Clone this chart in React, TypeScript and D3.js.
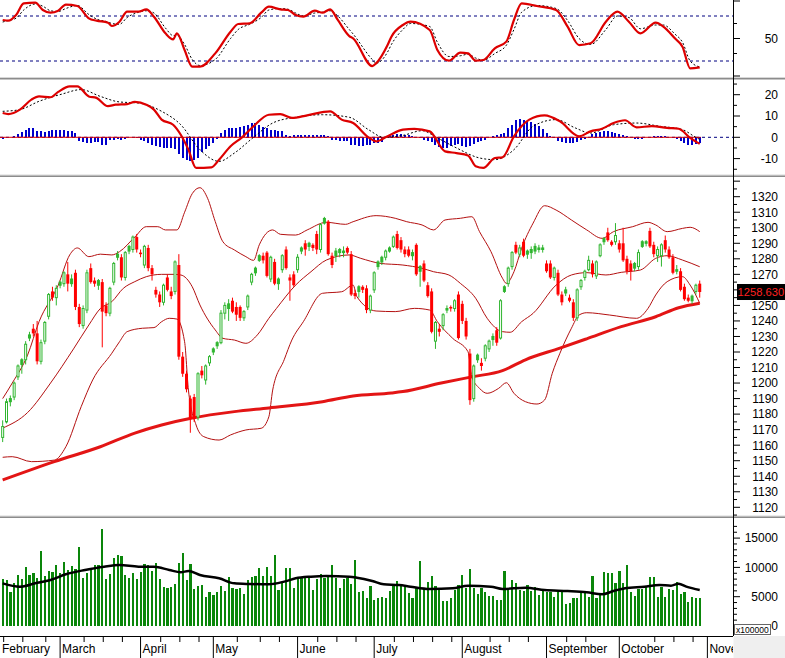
import React from 'react';
import * as d3 from 'd3';

const FONT = "Arial, 'Liberation Sans', Helvetica, sans-serif";

// ---------- categories ----------
const monthNames = ['February', 'March', 'April', 'May', 'June', 'July', 'August', 'September', 'October', 'November'];
const monthStartBar = [0, 15, 36, 55, 77, 97, 120, 142, 161, 184];
const weekTickBar = [0, 5, 11, 21, 26, 31, 41, 46, 51, 61, 67, 72, 82, 87, 92, 102, 107, 112, 117, 127, 132, 137, 147, 152, 170, 175, 180];

// ---------- price candles [open, high, low, close] ----------
const ohlc: [number, number, number, number][] = [
  [1165,1176,1162,1172],[1175,1190,1174,1188],[1188,1192,1185,1190],[1191,1201,1189,1200],[1204,1212,1202,1211],
  [1212,1216,1206,1215],[1215,1227,1212,1225],[1229,1233,1227,1231],[1235,1238,1230,1232],[1232,1240,1212,1214],
  [1214,1228,1212,1226],[1227,1240,1225,1239],[1243,1258,1241,1257],[1259,1262,1253,1255],[1255,1263,1250,1261],
  [1263,1266,1261,1265],[1264,1272,1262,1271],[1270,1278,1259,1264],[1264,1270,1262,1267],[1271,1273,1247,1249],
  [1249,1251,1236,1238],[1237,1250,1235,1248],[1247,1273,1245,1271],[1274,1277,1264,1265],[1266,1268,1262,1264],
  [1263,1267,1260,1266],[1265,1267,1223,1246],[1250,1252,1243,1245],[1245,1262,1243,1261],[1265,1278,1263,1277],
  [1281,1285,1279,1283],[1281,1283,1266,1268],[1268,1285,1266,1284],[1285,1289,1283,1288],[1286,1295,1284,1294],
  [1294,1296,1284,1286],[1284,1286,1281,1283],[1276,1289,1274,1288],[1287,1289,1272,1274],[1274,1276,1266,1270],
  [1260,1262,1255,1257],[1257,1259,1249,1252],[1252,1264,1250,1263],[1268,1270,1259,1260],[1259,1262,1254,1256],
  [1259,1279,1257,1278],[1276,1283,1215,1217],[1217,1220,1204,1206],[1206,1208,1194,1196],[1190,1192,1168,1177],
  [1191,1193,1175,1177],[1178,1207,1176,1206],[1208,1211,1203,1205],[1202,1212,1199,1211],[1213,1218,1211,1217],
  [1220,1223,1218,1222],[1224,1227,1222,1226],[1226,1247,1225,1245],[1245,1252,1241,1250],[1248,1254,1240,1251],
  [1253,1255,1245,1246],[1249,1252,1240,1244],[1249,1250,1240,1242],[1242,1247,1240,1246],[1249,1257,1247,1256],
  [1265,1271,1263,1270],[1271,1275,1269,1274],[1279,1283,1278,1282],[1282,1284,1277,1279],[1284,1285,1268,1269],
  [1267,1282,1265,1281],[1278,1280,1263,1264],[1264,1268,1260,1267],[1273,1283,1271,1282],[1286,1288,1273,1274],
  [1268,1270,1253,1266],[1270,1272,1262,1263],[1273,1283,1271,1281],[1285,1288,1283,1287],[1290,1292,1282,1286],
  [1288,1291,1285,1290],[1289,1290,1285,1287],[1296,1298,1283,1286],[1286,1303,1284,1302],[1303,1307,1302,1306],
  [1304,1305,1282,1283],[1282,1284,1274,1276],[1282,1287,1278,1285],[1284,1287,1281,1286],[1284,1288,1281,1285],
  [1287,1288,1283,1284],[1283,1285,1256,1257],[1258,1260,1254,1256],[1259,1263,1255,1262],[1262,1263,1258,1260],
  [1261,1263,1245,1247],[1247,1257,1245,1256],[1260,1272,1258,1271],[1275,1279,1273,1278],[1278,1282,1276,1281],
  [1281,1286,1279,1285],[1285,1288,1284,1287],[1288,1295,1287,1294],[1296,1298,1286,1287],[1292,1294,1284,1286],
  [1286,1288,1281,1283],[1286,1288,1281,1282],[1282,1286,1279,1284],[1289,1290,1269,1270],[1272,1276,1262,1275],
  [1277,1279,1265,1266],[1263,1265,1255,1256],[1259,1261,1232,1233],[1227,1240,1222,1239],[1235,1238,1230,1233],
  [1237,1245,1234,1244],[1247,1250,1245,1248],[1249,1250,1246,1248],[1248,1254,1246,1253],[1257,1259,1228,1229],
  [1251,1253,1238,1240],[1240,1242,1228,1230],[1219,1222,1186,1189],[1190,1212,1188,1211],[1215,1219,1213,1218],
  [1213,1216,1208,1211],[1216,1225,1214,1224],[1222,1228,1220,1227],[1228,1232,1224,1230],[1234,1236,1224,1226],
  [1229,1254,1228,1253],[1259,1263,1258,1262],[1264,1275,1262,1274],[1275,1285,1273,1284],[1289,1291,1283,1284],
  [1283,1289,1281,1287],[1291,1293,1281,1282],[1283,1286,1280,1285],[1284,1288,1280,1286],[1285,1290,1283,1288],
  [1286,1289,1284,1287],[1286,1289,1284,1287],[1277,1279,1271,1272],[1277,1279,1267,1268],[1268,1275,1266,1274],
  [1271,1273,1256,1257],[1257,1259,1250,1252],[1258,1262,1256,1260],[1255,1257,1252,1253],[1252,1254,1240,1242],
  [1242,1261,1240,1260],[1262,1267,1260,1266],[1268,1273,1266,1272],[1273,1282,1272,1279],[1277,1279,1268,1270],
  [1269,1279,1267,1278],[1282,1290,1281,1289],[1291,1294,1289,1293],[1297,1300,1291,1292],[1291,1292,1288,1289],
  [1291,1303,1289,1295],[1290,1292,1284,1286],[1290,1300,1278,1279],[1280,1282,1270,1272],[1277,1279,1266,1272],
  [1274,1278,1272,1277],[1275,1286,1273,1284],[1288,1292,1287,1291],[1290,1292,1288,1291],[1298,1300,1287,1288],
  [1289,1291,1281,1283],[1282,1288,1278,1286],[1282,1290,1275,1289],[1292,1295,1284,1286],[1286,1288,1280,1281],
  [1281,1283,1270,1271],[1272,1276,1270,1273],[1272,1274,1259,1260],[1262,1264,1253,1254],[1255,1257,1252,1253],
  [1253,1257,1251,1256],[1259,1264,1257,1263],[1264,1266,1255,1258.63],
];

// ---------- volume (x100000) ----------
const volume = [
  8020,7850,5860,7280,8700,8020,10000,8700,9000,8250,
  12800,8530,9390,9270,10400,9000,11000,9560,10240,9730,
  13500,8250,9000,9840,10400,10400,16560,8020,8820,11550,
  12100,11950,8700,8250,9100,8020,9270,10530,10400,9390,
  10700,8020,6700,6540,6700,7110,10700,12400,7850,10530,
  6300,6880,7000,5000,5750,5290,5860,6880,5970,8420,
  6540,6300,6540,5520,7850,8420,8530,9960,8590,10070,
  8590,12120,6150,7570,9960,9960,6430,8140,8250,8250,
  8140,6150,8020,8820,8140,8700,10400,8140,6540,8020,
  8140,7110,11270,5750,5970,4840,6880,4440,4840,5000,
  4840,5970,7000,7680,
  6880,6700,5580,4840,6430,11100,6300,7570,8530,6880,
  6430,4270,4270,4840,6150,7000,8700,6540,9730,6430,
  5400,6540,5750,5180,5060,4440,4440,9390,6150,7850,
  7400,6150,5970,7000,5970,6700,5290,5970,5860,5750,
  5000,5750,5860,3700,3980,4720,4840,5970,5970,4950,
  8530,4720,5290,9160,8990,8990,7280,9390,7280,10400,
  5750,5180,6300,6300,6650,8360,8360,5000,6650,4950,
  6300,6200,7570,5400,5860,4040,5000,4840,4840,
];
const volumeMA: [number, number][] = [
  [0,7280],[4.5,6710],[8.5,7280],[12.5,7850],[16.5,8820],[21.5,9560],[26.5,10130],[30.5,10410],[35.5,10130],[39.5,10130],
  [43.5,9560],[46.5,9160],[48.5,9390],[51.5,8700],[56.5,8140],[60.5,7280],[64.5,7170],[69.5,7110],[73.5,7570],[76.5,8140],
  [80.5,8420],[84.5,8530],[90.5,8420],[92.5,8250],[96.5,7680],[99.5,7110],[103.5,7000],[106.5,6710],[111.5,6320],[117.5,6430],
  [121.5,6880],[127.5,6710],[130.5,6320],[136.5,6540],[141.5,6150],[147.5,5970],[152.5,5750],[156.5,5400],[159.5,5970],[162.5,6430],
  [167.5,6710],[171.5,7000],[174.5,6880],[176.5,7220],[178.5,6710],[182,6150],
];

// ---------- Bollinger bands & MA200 ----------
const bbUpper: [number, number][] = [
  [0,1190],[2.5,1200],[6.5,1218],[9.5,1239.5],[14.5,1263],[17.5,1282.5],[19.5,1287],[22.5,1281.4],[25.5,1283],[28.5,1282.5],
  [30.5,1284.6],[34.5,1294],[37.5,1300.7],[40.5,1300.7],[42.5,1298.6],[45.5,1298.6],[47.5,1310],[49.5,1322],[51.5,1325.8],[53.5,1319],
  [55.5,1304],[57.5,1291],[60.5,1285.7],[63.5,1281.4],[65.5,1279],[67,1289],[70.5,1298.6],[72.5,1295.8],[76.5,1295.3],[79.5,1298.6],
  [84.5,1303.5],[89.5,1302.2],[91.5,1303.9],[97.5,1307.8],[102.5,1306.1],[105.5,1303.9],[109.5,1301.8],[112.5,1298.6],[115.5,1305],[119.5,1306.1],
  [122.5,1307.1],[124.5,1297.5],[127.5,1284.6],[130.5,1267.5],[131.5,1264.2],[133.5,1271.7],[135.5,1286.8],[138.5,1303],[141.5,1314.2],[144.5,1311.4],
  [148.5,1305],[152.5,1298.6],[156.5,1293.2],[159.5,1297.5],[164.5,1300.7],[168.5,1303.5],[170.5,1301.8],[173.5,1297.5],[177.5,1299.6],[179.5,1300.3],[182,1297.5],
];
const bbMiddle: [number, number][] = [
  [0,1171],[6.5,1181],[12.5,1200],[18.5,1222],[22.5,1237.4],[25.5,1248],[28.5,1252.4],[31.5,1261],[34.5,1265.3],[37.5,1268.5],
  [41.5,1270],[44.5,1270],[46.5,1269.6],[49.5,1262],[51.5,1250.3],[55.5,1234.2],[57.5,1228.8],[60.5,1227.7],[63.5,1225.6],[66.5,1231],
  [69.5,1241.7],[71.5,1248.1],[76.5,1263.1],[80.5,1271.7],[84.5,1279.2],[90.5,1282.5],[93.5,1280.3],[98.5,1277.1],[104.5,1276],[109.5,1273.9],
  [112.5,1271.7],[116.5,1269.6],[119.5,1264.2],[123.5,1254.6],[126.5,1241.7],[130.5,1233.1],[132.5,1232.7],[135.5,1239.5],[138.5,1244.9],[144.5,1263.1],
  [148.5,1269.6],[152.5,1271.1],[157.5,1269.6],[161.5,1271.3],[166.5,1272.8],[170.5,1280.3],[173.5,1282],[177.5,1279.2],[182,1274.9],
];
const bbLower: [number, number][] = [
  [0,1152.2],[2.5,1152.6],[7.5,1149.4],[13.5,1150.4],[16.5,1159],[20.5,1184.8],[23.5,1202],[28.5,1219.2],[30.5,1226.6],[32.5,1233.1],
  [36.5,1235.3],[39.5,1235.7],[41.5,1239.5],[43.5,1241.7],[45.5,1241.2],[47.5,1226.6],[48.5,1195.5],[50.5,1173],[52.5,1165.5],[56.5,1163.3],
  [59.5,1166.6],[63.5,1169.8],[67.5,1170.9],[69.5,1178.3],[70.5,1195.5],[73.5,1215],[75.5,1227.7],[78.5,1239.5],[83.5,1257.8],[88.5,1258.8],
  [91.5,1263.1],[92.5,1255.6],[97.5,1246.4],[102.5,1246],[107.5,1248.1],[111.5,1247],[113.5,1239.5],[117.5,1228.8],[121.5,1220.2],[122.5,1204.1],
  [124.5,1196.6],[126.5,1193.4],[129.5,1196.6],[131.5,1200.2],[133.5,1193.4],[136.5,1188],[139.5,1186.5],[141.5,1189.1],[143.5,1206.3],[145.5,1219.2],
  [148.5,1235.3],[150.5,1243.8],[152.5,1245.3],[158.5,1243.8],[165.5,1241.7],[168.5,1248.1],[170.5,1256.7],[173.5,1265.3],[177.5,1268.5],[179.5,1263.1],[182,1251.4],
];
const ma200: [number, number][] = [
  [0,1137.6],[13.5,1149.4],[25.5,1159],[34.5,1167.8],[41.5,1173],[49.5,1177.5],[60.5,1181.6],[69.5,1184],[83.5,1188],[91.5,1191.7],
  [101.5,1193.6],[104.5,1194.5],[114.5,1200],[122.5,1204],[130.5,1208],[136.5,1215],[145.5,1222.5],[152.5,1228.5],[161.5,1236.3],[170.5,1242.7],
  [176.5,1248.5],[182,1251.4],
];

// ---------- Stochastic ----------
const stochK: [number, number][] = [
  [0,74.7],[1.5,73.8],[3.5,81.3],[5.5,96.9],[8.5,97.8],[10.5,88],[12.5,84.4],[14.5,87.1],[16.5,95.1],[19.5,93.3],
  [22.5,76.9],[24.5,73.8],[27.5,71.1],[28.5,66.7],[30.5,72.4],[32.5,85.8],[35.5,85.8],[37.5,88.9],[39.5,79.1],[42.5,56.9],
  [44.5,48.9],[45.5,56.9],[47.5,34.7],[49.5,12.4],[51.5,12.4],[55.5,30.2],[59.5,59.1],[61.5,69.3],[64.5,70.2],[67.5,84.4],
  [69.5,92.4],[72.5,88.9],[74.5,88],[76.5,81.3],[78.5,79.1],[81.5,87.1],[83.5,84.4],[85.5,88.9],[87.5,74.7],[90.5,53.3],
  [91.5,50.2],[96.5,13.3],[97.5,16.9],[100.5,41.3],[101.5,52.4],[104.5,68],[106.5,72.4],[111.5,61.3],[113.5,34.7],[116.5,20.4],
  [119.5,31.1],[121.5,30.2],[123.5,20.4],[125.5,21.3],[128.5,36.9],[131.5,45.8],[133.5,74.7],[135.5,96.9],[139.5,93.3],[144.5,88],
  [147.5,65.8],[150.5,41.3],[153.5,43.6],[157.5,72.4],[160.5,85.8],[163.5,72.4],[166.5,56.9],[170.5,71.1],[172.5,65.8],[175.5,50.2],
  [177.5,39.1],[179.5,10.2],[182,11.6],
];
const stochD: [number, number][] = [
  [0,72],[1.5,74],[3.5,77],[5.5,88],[8.5,96],[10.5,93],[12.5,87],[14.5,86],[16.5,90],[19.5,94],
  [22.5,82],[24.5,76],[27.5,72],[28.5,70],[30.5,69],[32.5,78],[35.5,85],[37.5,87],[39.5,84],[42.5,64],
  [44.5,54],[45.5,54],[47.5,42],[49.5,22],[51.5,14],[55.5,22],[59.5,50],[61.5,62],[64.5,69],[67.5,78],
  [69.5,88],[72.5,90],[74.5,89],[76.5,84],[78.5,80],[81.5,84],[83.5,85],[85.5,87],[87.5,80],[90.5,62],
  [91.5,56],[96.5,22],[97.5,17],[100.5,32],[101.5,42],[104.5,62],[106.5,70],[111.5,66],[113.5,45],[116.5,26],
  [119.5,27],[121.5,29],[123.5,24],[125.5,21],[128.5,30],[131.5,41],[133.5,62],[135.5,85],[139.5,94],[144.5,90],
  [147.5,74],[150.5,50],[153.5,42],[157.5,62],[160.5,80],[163.5,78],[166.5,63],[170.5,68],[172.5,68],[175.5,56],
  [177.5,45],[179.5,20],[182,12],
];

// ---------- MACD ----------
const macdLine: [number, number][] = [
  [0,11.4],[1.5,10.9],[4.5,13],[7.5,17.7],[9.5,19.2],[12.5,18.8],[14.5,21.3],[17.5,23.9],[19.5,23.9],[22.5,19.2],
  [24.5,18.5],[27.5,14.6],[29.5,15.3],[32.5,15.6],[34.5,16.6],[37.5,15.3],[39.5,13],[41.5,8.3],[44.5,5.9],[46.5,1.2],
  [48.5,-5.8],[50.5,-14.4],[54.5,-14.1],[56.5,-10.5],[59.5,-4.2],[62.5,0],[65.5,5.2],[69.5,10.6],[72.5,10.9],[75.5,9.1],
  [79.5,10.3],[85.5,12.2],[88.5,8.3],[91.5,6.7],[95.5,0],[97.5,-1.9],[100.5,0.5],[104.5,3.6],[107.5,4],[111.5,2.8],
  [115.5,-6.6],[118.5,-7.4],[121.5,-8.5],[123.5,-13.6],[125.5,-14.4],[128.5,-9.7],[130.5,-9.4],[133.5,0.5],[137.5,8.3],[141.5,10.3],
  [145.5,7.5],[150.5,0.5],[153.5,2.8],[156.5,4],[159.5,6.7],[162.5,8],[165.5,4.7],[169.5,5.2],[173.5,4.4],[176.5,4],
  [179.5,-0.3],[182,-3.1],
];
const macdSignal: [number, number][] = [
  [0,12.2],[4.5,13],[9.5,16.9],[15.5,20.3],[20.5,22.4],[25.5,19.2],[30.5,16.6],[35.5,16.1],[41.5,12.2],[46.5,5.9],
  [51.5,-5.8],[56.5,-11.3],[60.5,-7.4],[65.5,0],[70.5,6.7],[76.5,9.4],[83.5,10.6],[90.5,9.4],[95.5,3.6],[99.5,0],
  [104.5,0.9],[109.5,3.1],[113.5,-0.3],[118.5,-5],[124.5,-9.7],[128.5,-10.5],[133.5,-5.8],[138.5,5.2],[144.5,8.3],[149.5,4.4],
  [153.5,2],[159.5,5.9],[165.5,6.7],[171.5,5.2],[177.5,3.6],[180.5,0.5],[182,-1],
];
const macdHist = [
  -0.8,-0.5,0.2,0.8,1.5,2.5,3.5,4.4,4.2,3.0,
  2.8,2.6,3.0,3.2,3.4,3.6,3.3,3.0,2.8,2.0,
  -1.9,-2.4,-2.7,-2.5,-2.0,-2.2,-3.4,-3.4,-1.5,-1.1,
  -1.0,-1.1,-0.6,0.2,0.3,-0.2,-1.1,-1.8,-2.6,-3.4,
  -4.2,-4.6,-5.0,-4.8,-5.0,-5.5,-8.0,-9.5,-10.5,-11.0,
  -10.5,-9.5,-7.0,-5.5,-4.0,-2.7,-0.8,2.0,3.5,4.2,
  4.4,4.4,5.0,5.5,6.0,6.7,6.5,5.9,5.0,4.4,
  3.6,3.2,3.0,2.8,1.2,0.8,1.0,1.2,1.1,1.2,
  1.0,1.2,1.1,1.2,1.0,0.4,-1.1,-1.4,-1.6,-1.9,
  -1.8,-3.4,-3.8,-4.2,-4.0,-3.8,-3.4,-2.7,-2.7,-2.0,
  -0.5,0.8,1.2,1.5,1.6,1.3,1.2,0.8,0.2,-0.3,
  -1.2,-1.9,-2.2,-3.4,-4.5,-5.0,-4.8,-4.2,-3.5,-3.2,
  -4.2,-4.6,-4.0,-3.0,-2.0,-1.8,-1.2,0.3,0.6,0.9,
  1.4,2.0,4.5,6.0,8.0,8.5,8.0,7.5,7.0,6.2,
  5.5,3.8,2.0,0.5,-0.5,-1.8,-2.2,-2.5,-2.8,-2.6,
  -2.0,-1.5,-0.8,0.3,1.5,2.0,2.5,2.8,2.8,2.5,
  2.2,1.6,1.2,0.8,0.0,-0.8,-1.0,-0.6,0.0,0.3,
  0.5,0.5,0.4,0.5,0.2,-0.3,-0.6,-1.8,-2.8,-3.5,
  -3.8,-3.0,-2.6,
];

// ---------- axis ticks ----------
const priceTicks = d3.range(1115, 1335, 5);
const macdTicks = d3.range(-15, 30, 5);
const stochTicks = [0, 30, 50, 70, 100];
const volTicks = d3.range(0, 18000, 1000);

export default function App() {
  const W = 785, H = 658, AX = 733;
  const lastBar = ohlc.length - 1;
  const xs = d3.scaleLinear().domain([0, lastBar]).range([2.67, 2.67 + 3.83 * lastBar]);
  const yStoch = d3.scaleLinear().domain([0, 100]).range([76, 1]);
  const yMacd = d3.scaleLinear().domain([-10, 20]).range([158.6, 94.7]);
  const yPrice = d3.scaleLinear().domain([1120, 1320]).range([507.3, 196.7]);
  const yVol = d3.scaleLinear().domain([0, 15000]).range([626, 538.1]);

  const mk = (ys: d3.ScaleLinear<number, number>) =>
    d3.line<[number, number]>().x(d => xs(d[0])).y(d => ys(d[1])).curve(d3.curveMonotoneX);

  const lastClose = ohlc[lastBar][3];
  const boxY = yPrice(lastClose);
  const up = '#2fb52f';
  const dn = '#ff0000';

  const sep = (y: number) => (
    <g>
      <rect x={0} y={y} width={W} height={1} fill="#d8d8d8" />
      <rect x={0} y={y + 1} width={W} height={1.5} fill="#8c8c8c" />
    </g>
  );

  const tickLabel = (y: number, t: string, key: string) => (
    <text key={key} x={778} y={y} dy="0.36em" textAnchor="end" fontSize={12} fill="#000">{t}</text>
  );

  return (
    <svg width={W} height={H} style={{ position: 'absolute', left: 0, top: 0, background: '#fff' }} fontFamily={FONT}>
      <defs>
        <clipPath id="cStoch"><rect x={0} y={0} width={AX} height={77} /></clipPath>
        <clipPath id="cMacd"><rect x={0} y={80} width={AX} height={95} /></clipPath>
        <clipPath id="cPrice"><rect x={0} y={177.5} width={AX} height={338} /></clipPath>
        <clipPath id="cVol"><rect x={0} y={518.5} width={AX} height={117} /></clipPath>
        <clipPath id="cAxis"><rect x={0} y={636} width={AX} height={22} /></clipPath>
      </defs>
      <rect x={0} y={0} width={W} height={H} fill="#fff" />

      {/* ---------- Stochastic panel ---------- */}
      <g clipPath="url(#cStoch)">
        {[80, 20].map(v => (
          <line key={v} x1={0} x2={AX} y1={yStoch(v)} y2={yStoch(v)} stroke="#000080" strokeWidth={1} strokeDasharray="3,3" />
        ))}
        <path d={mk(yStoch)(stochD) || ''} fill="none" stroke="#000" strokeWidth={1} strokeDasharray="2,2" />
        <path d={mk(yStoch)(stochK) || ''} fill="none" stroke="#dd0000" strokeWidth={2.2} />
      </g>

      {/* ---------- MACD panel ---------- */}
      <g clipPath="url(#cMacd)">
        <line x1={0} x2={AX} y1={yMacd(0)} y2={yMacd(0)} stroke="#000080" strokeDasharray="3,3" />
        {macdHist.map((v, i) => (
          <rect key={i} x={xs(i) - 1} width={2} y={Math.min(yMacd(0), yMacd(v))} height={Math.abs(yMacd(v) - yMacd(0))} fill="#0000cc" shapeRendering="crispEdges" />
        ))}
        <line x1={0} x2={xs(lastBar) + 1} y1={yMacd(0)} y2={yMacd(0)} stroke="#dd0000" strokeWidth={1} />
        <path d={mk(yMacd)(macdSignal) || ''} fill="none" stroke="#000" strokeWidth={1} strokeDasharray="2,2" />
        <path d={mk(yMacd)(macdLine) || ''} fill="none" stroke="#dd0000" strokeWidth={2.2} />
      </g>

      {/* ---------- Price panel ---------- */}
      <g clipPath="url(#cPrice)">
        <path d={mk(yPrice)(bbUpper) || ''} fill="none" stroke="#b31010" strokeWidth={1} />
        <path d={mk(yPrice)(bbMiddle) || ''} fill="none" stroke="#b31010" strokeWidth={1} />
        <path d={mk(yPrice)(bbLower) || ''} fill="none" stroke="#b31010" strokeWidth={1} />
        <path d={mk(yPrice)(ma200) || ''} fill="none" stroke="#e31515" strokeWidth={3} />
        {ohlc.map(([o, h, l, c], i) => {
          const x = xs(i);
          const isUp = c >= o;
          const top = yPrice(Math.max(o, c));
          const bot = yPrice(Math.min(o, c));
          const bh = Math.max(bot - top, 1);
          const col = isUp ? up : dn;
          return (
            <g key={i}>
              <line x1={x} x2={x} y1={yPrice(h)} y2={yPrice(l)} stroke={col} strokeWidth={1} />
              {isUp ? (
                <rect x={x - 1} y={top} width={2} height={bh} fill={c - o <= 3 ? col : '#fff'} stroke={col} strokeWidth={1} />
              ) : (
                <rect x={x - 1.5} y={top} width={3} height={bh} fill={col} />
              )}
            </g>
          );
        })}
      </g>

      {/* ---------- Volume panel ---------- */}
      <g clipPath="url(#cVol)">
        {volume.map((v, i) => (
          <rect key={i} x={xs(i) - 1} width={2.2} y={yVol(v)} height={yVol(0) - yVol(v)} fill="#0a860a" shapeRendering="crispEdges" />
        ))}
        <path d={mk(yVol)(volumeMA) || ''} fill="none" stroke="#000" strokeWidth={2.5} />
      </g>

      {/* ---------- separators ---------- */}
      {sep(77)}
      {sep(174.5)}
      {sep(515.5)}

      {/* ---------- right axis ---------- */}
      <line x1={AX + 0.5} x2={AX + 0.5} y1={0} y2={636} stroke="#000" />
      {stochTicks.map(v => (
        <line key={'st' + v} x1={AX} x2={AX + (v % 50 === 0 ? 7 : 4)} y1={yStoch(v)} y2={yStoch(v)} stroke="#000" />
      ))}
      {tickLabel(yStoch(50), '50', 'sl')}
      {macdTicks.map(v => (
        <line key={'mt' + v} x1={AX} x2={AX + (v % 10 === 0 ? 7 : 4)} y1={yMacd(v)} y2={yMacd(v)} stroke="#000" />
      ))}
      {macdTicks.filter(v => v % 10 === 0 && v >= -10 && v <= 20).map(v => tickLabel(yMacd(v), String(v), 'ml' + v))}
      {priceTicks.map(v => (
        <line key={'pt' + v} x1={AX} x2={AX + (v % 10 === 0 ? 7 : 4)} y1={yPrice(v)} y2={yPrice(v)} stroke="#000" />
      ))}
      {priceTicks
        .filter(v => v % 10 === 0 && v >= 1120 && v <= 1320 && Math.abs(yPrice(v) - boxY) > 10)
        .map(v => tickLabel(yPrice(v), String(v), 'pl' + v))}
      {volTicks.map(v => (
        <line key={'vt' + v} x1={AX} x2={AX + (v % 5000 === 0 ? 7 : 4)} y1={yVol(v)} y2={yVol(v)} stroke="#000" />
      ))}
      {[0, 5000, 10000, 15000].map(v => tickLabel(yVol(v), String(v), 'vl' + v))}

      {/* last price box */}
      <rect x={737} y={boxY - 8} width={48} height={16} fill="#000" />
      <text x={737.5} y={boxY} dy="0.36em" fontSize={11.2} fill="#ff2020">{lastClose.toFixed(3)}</text>

      {/* multiplier box */}
      <rect x={734.5} y={624.5} width={36} height={10} fill="#fff" stroke="#666" strokeWidth={1} />
      <text x={736} y={632.5} fontSize={8.5} fill="#000">x100000</text>

      {/* ---------- bottom time axis ---------- */}
      <rect x={AX + 0.5} y={636} width={W - AX} height={22} fill="#efefef" />
      <line x1={0} x2={AX} y1={636.5} y2={636.5} stroke="#000" />
      <g clipPath="url(#cAxis)">
        {weekTickBar.map(b => (
          <line key={'w' + b} x1={xs(b) + 1} x2={xs(b) + 1} y1={636} y2={642} stroke="#000" />
        ))}
        {monthStartBar.map((b, i) => (
          <g key={'m' + i}>
            {i > 0 && <line x1={xs(b)} x2={xs(b)} y1={636} y2={658} stroke="#000" />}
            <text x={i > 0 ? xs(b) + 2 : 2} y={653} fontSize={12} fill="#000">{monthNames[i]}</text>
          </g>
        ))}
      </g>
    </svg>
  );
}
